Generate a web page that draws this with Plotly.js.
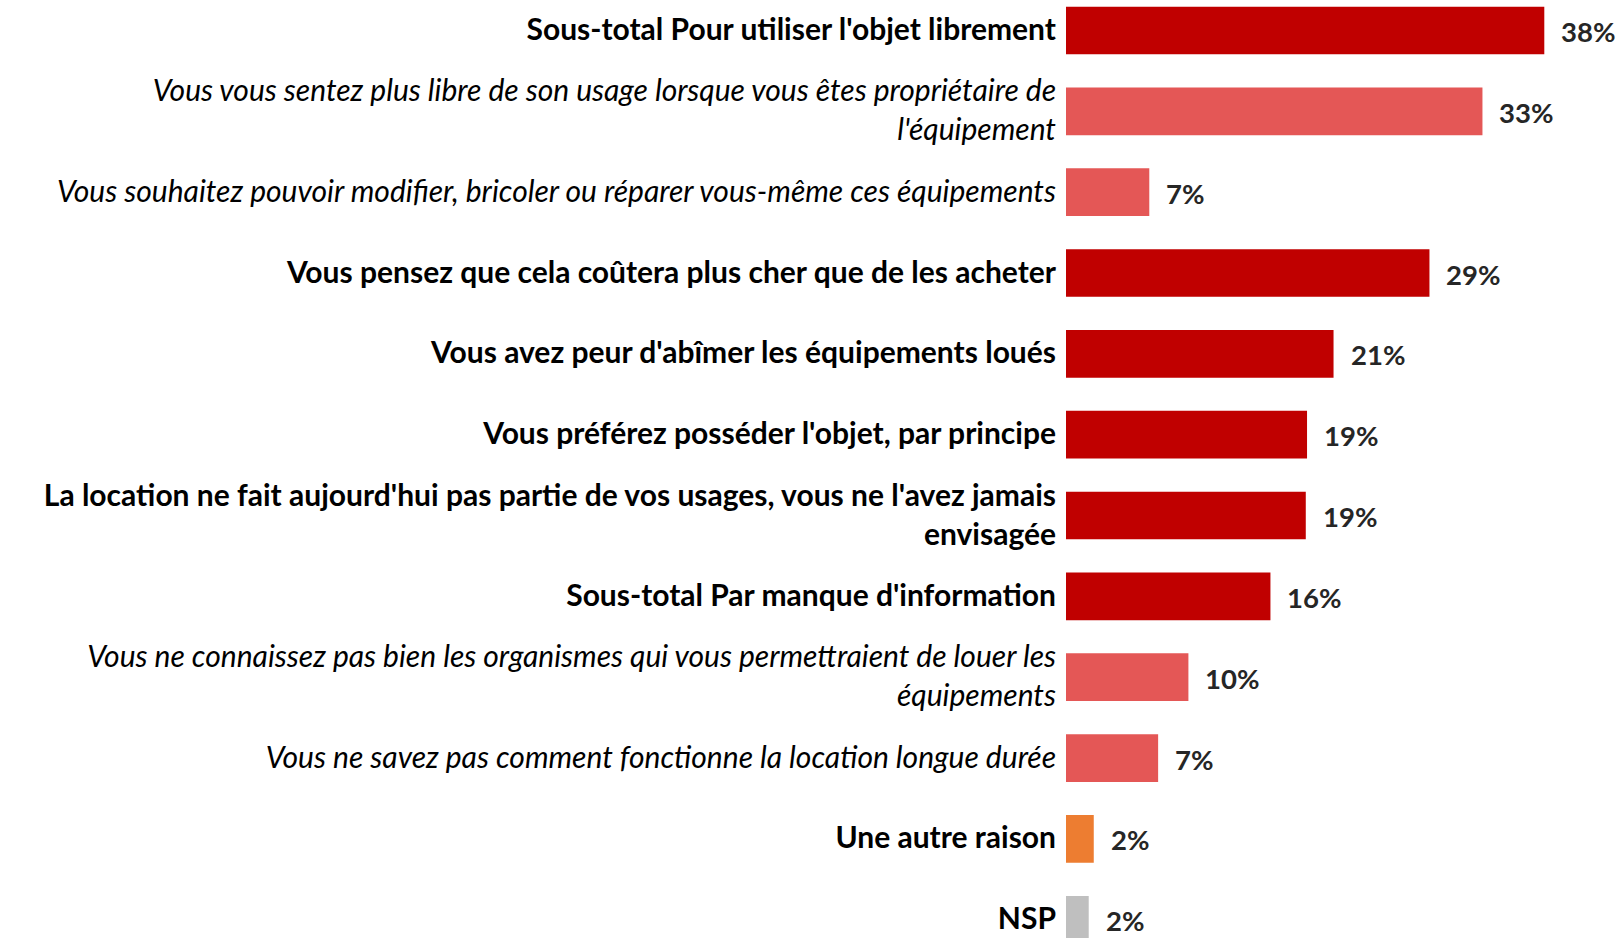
<!DOCTYPE html>
<html>
<head>
<meta charset="utf-8">
<script src="https://cdn.plot.ly/plotly-3.0.1.min.js"></script>
<style>html,body{margin:0;padding:0;background:#fff;}</style>
</head>
<body>
<div id="chart" style="width:1621px;height:938px;"></div>
<script>
// Category labels (top to bottom)
const categories = [
  "Sous-total Pour utiliser l'objet librement",
  "Vous vous sentez plus libre de son usage lorsque vous êtes propriétaire de<br>l'équipement",
  "Vous souhaitez pouvoir modifier, bricoler ou réparer vous-même ces équipements",
  "Vous pensez que cela coûtera plus cher que de les acheter",
  "Vous avez peur d'abîmer les équipements loués",
  "Vous préférez posséder l'objet, par principe",
  "La location ne fait aujourd'hui pas partie de vos usages, vous ne l'avez jamais<br>envisagée",
  "Sous-total Par manque d'information",
  "Vous ne connaissez pas bien les organismes qui vous permettraient de louer les<br>équipements",
  "Vous ne savez pas comment fonctionne la location longue durée",
  "Une autre raison",
  "NSP"
];
// Group of each category
const groups = ["main","detail","detail","main","main","main","main","main","detail","detail","other","nsp"];
// Percentages (estimated bar lengths)
const values = [37.9, 33.0, 6.6, 28.8, 21.2, 19.1, 19.0, 16.2, 9.7, 7.3, 2.2, 1.8];
// Displayed value labels
const valueLabels = ["38%","33%","7%","29%","21%","19%","19%","16%","10%","7%","2%","2%"];

const groupColor = {main:"#C00000", detail:"#E45756", other:"#ED7D31", nsp:"#BFBFBF"};
const ids = categories.map((c,i)=>"c"+i);
const ticktext = categories.map((c,i)=> groups[i]==="detail" ? "<i>"+c+"</i>" : "<b>"+c+"</b>");

const trace = {
  type: "bar",
  orientation: "h",
  x: values,
  y: ids,
  marker: {color: groups.map(g=>groupColor[g])},
  hoverinfo: "none"
};

const annotations = values.map((v,i)=>({
  x: v, y: ids[i], xref: "x", yref: "y",
  text: "<b>"+valueLabels[i]+"</b>",
  showarrow: false, xanchor: "left", yanchor: "middle",
  xshift: 15, yshift: -1,
  font: {family: "Lato, 'Open Sans', sans-serif", size: 27.5, color: "#262626"}
}));

const pxPerUnit = 12.62;
const layout = {
  width: 1621, height: 938,
  margin: {l: 1066, r: 0, t: 0, b: 0, pad: 0},
  paper_bgcolor: "#ffffff", plot_bgcolor: "#ffffff",
  showlegend: false,
  bargap: 0.41,
  font: {family: "Lato, 'Open Sans', sans-serif", color: "#000000"},
  xaxis: {
    range: [0, (1621-1066)/pxPerUnit],
    showgrid: false, zeroline: false, showline: false,
    showticklabels: false, ticks: ""
  },
  yaxis: {
    type: "category",
    categoryorder: "array", categoryarray: ids,
    tickvals: ids, ticktext: ticktext,
    range: [11.226, -0.377],
    showgrid: false, zeroline: false, showline: false,
    ticks: "outside", ticklen: 3, tickcolor: "rgba(0,0,0,0)",
    ticklabelshift: 1,
    tickfont: {family: "Lato, 'Open Sans', sans-serif", size: 30, color: "#000000"}
  },
  annotations: annotations
};

Plotly.newPlot("chart", [trace], layout, {displayModeBar: false, staticPlot: true});
</script>
</body>
</html>
